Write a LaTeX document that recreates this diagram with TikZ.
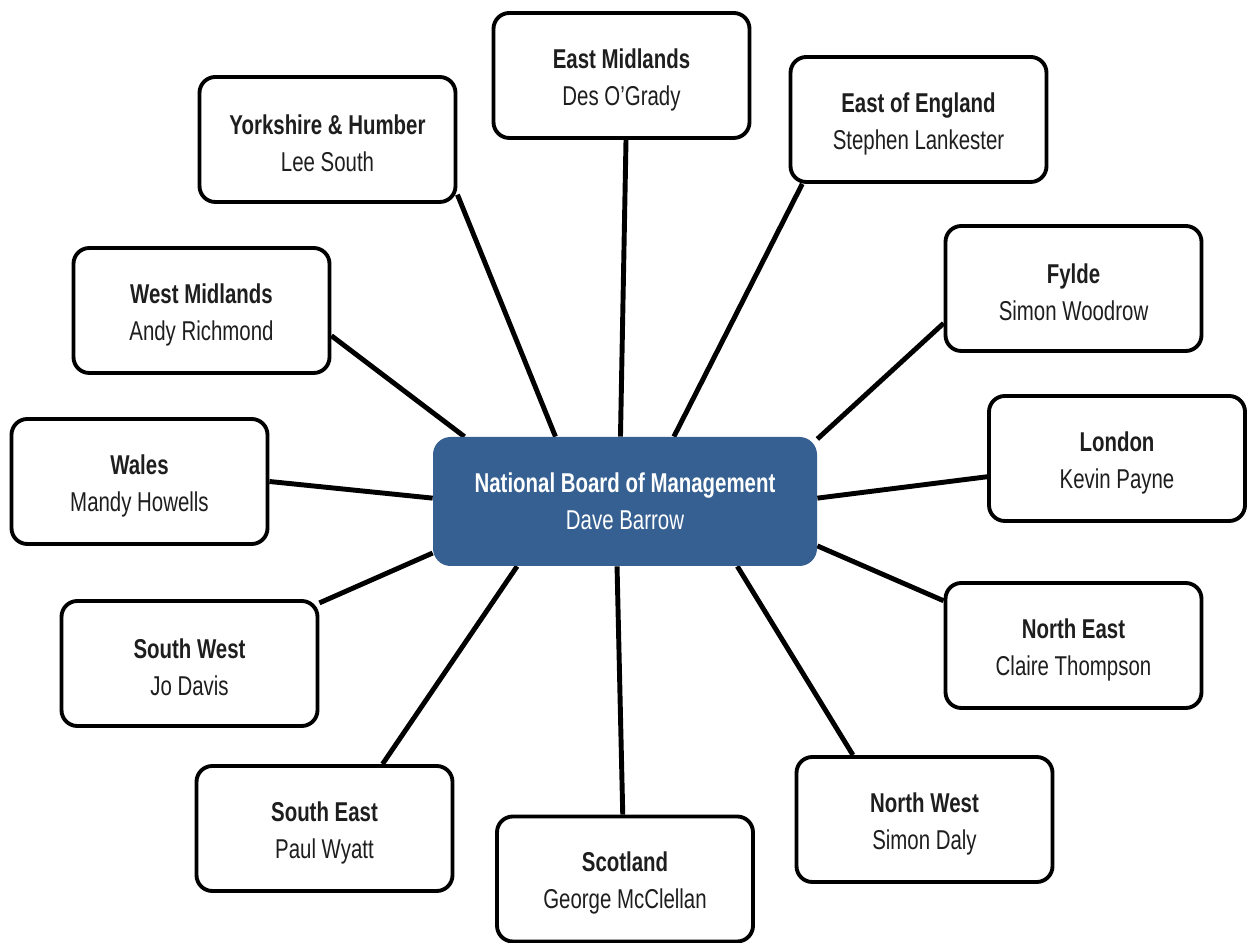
\documentclass[tikz,border=0pt]{standalone}
\usepackage{fontspec}
\setmainfont{Liberation Sans}[FakeStretch=0.75]
\usepackage{xcolor}
\usepackage{tikz}
\usetikzlibrary{positioning,calc}
\definecolor{boardblue}{RGB}{54,96,145}
\definecolor{inkgrey}{HTML}{1E1E1E}
\pgfdeclarelayer{background}
\pgfsetlayers{background,main}
\tikzset{
  region/.style={draw=black,line width=2.2pt,rounded corners=9pt,fill=white,align=center,
    minimum width=5.12cm,minimum height=2.5cm,inner sep=0pt,text=inkgrey,
    font=\fontsize{15.5}{21}\selectfont},
  board/.style={fill=boardblue,rounded corners=10pt,align=center,
    minimum width=7.68cm,minimum height=2.58cm,inner sep=0pt,text=white,
    font=\fontsize{15.5}{21}\selectfont},
  link/.style={line width=2.8pt},
}

\begin{document}
\begin{tikzpicture}[x=1cm,y=1cm]
\useasboundingbox (0,0) rectangle (25.04,18.86);

% national board
\node[board] (nb) at (12.50,8.83) {\textbf{National Board of Management}\\Dave Barrow};

% regions
\foreach \n/\x/\y/\r/\p in {em/12.43/17.35/{East Midlands}/{Des O’Grady},
    ee/18.37/16.47/{East of England}/{Stephen Lankester},
    yh/6.55/16.07/{Yorkshire \& Humber}/{Lee South},
    fy/21.47/13.09/{Fylde}/{Simon Woodrow},
    wm/4.03/12.65/{West Midlands}/{Andy Richmond},
    ld/22.34/9.69/{London}/{Kevin Payne},
    wa/2.79/9.23/{Wales}/{Mandy Howells},
    ne/21.47/5.95/{North East}/{Claire Thompson},
    sw/3.79/5.59/{South West}/{Jo Davis},
    nw/18.49/2.47/{North West}/{Simon Daly},
    se/6.49/2.29/{South East}/{Paul Wyatt},
    sc/12.50/1.28/{Scotland}/{George McClellan}} {
  \node[region] (\n) at (\x,\y) {\rule{0pt}{16pt}\textbf{\r}\\\p};
}

% spokes
\begin{pgfonlayer}{background}
\foreach \n/\a/\b in {wm/-11.7/158.6, yh/-23.5/137.8, em/-86.8/94.5, ee/209.4/53.5,
    fy/195/18.9, ld/188.2/1.9, ne/161.3/-13.3, nw/138.8/-30.8,
    sc/92.7/263.8, se/48.8/211.1, sw/25.4/195.8, wa/-0.7/179} {
  \draw[link] (\n.\a) -- (nb.\b);
}
\end{pgfonlayer}

\end{tikzpicture}
\end{document}
